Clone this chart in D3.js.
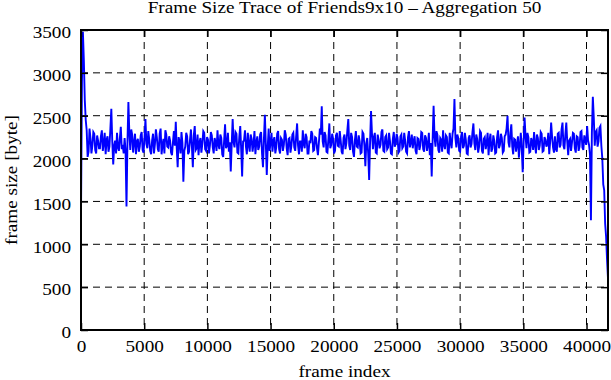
<!DOCTYPE html>
<html>
<head>
<meta charset="utf-8">
<script src="https://cdn.jsdelivr.net/npm/d3@7"></script>
<style>
  html, body { margin: 0; padding: 0; background: #fff; }
  svg { display: block; }
  text { font-family: "Liberation Serif", "Times New Roman", serif; fill: #000; }
</style>
</head>
<body>
<div id="chart"></div>
<script>
// Frame size trace (bytes), one sample every frameStep frames
const frameStep = 75;
const frameSize = [
  1350, 2900, 3480, 3150, 2680, 2450, 2330, 2020, 2080, 2350, 2240, 2060, 2150, 2310, 2290, 2100, 2060, 2270, 2210, 2120,
  2120, 2260, 2330, 2090, 2180, 2300, 2050, 2220, 2260, 2080, 2140, 2350, 2580, 2200, 1930, 2150, 2210, 2060, 2300, 2130,
  2090, 2240, 2370, 2110, 2160, 2060, 2240, 2100, 1440, 2180, 2660, 2300, 2100, 2340, 2280, 2070, 2190, 2290, 2050, 2200,
  2230, 2080, 2140, 2270, 2310, 2100, 2070, 2240, 2460, 2170, 2120, 2320, 2220, 2090, 2050, 2210, 2290, 2060, 2170, 2340,
  2250, 2110, 2080, 2290, 2350, 2050, 2160, 2230, 2060, 2330, 2280, 2140, 2130, 2260, 2210, 2070, 2040, 2190, 2320, 2150,
  2430, 2120, 1900, 2250, 2200, 2060, 2310, 2180, 1730, 2090, 2140, 2300, 2260, 2050, 2080, 2220, 2340, 2140, 1900, 2270,
  2380, 2100, 2120, 2280, 2040, 2190, 2240, 2070, 2170, 2320, 2300, 2110, 2090, 2250, 2220, 2060, 2150, 2310, 2270, 2130,
  2060, 2240, 2190, 2090, 2330, 2160, 2110, 2280, 2240, 2050, 2020, 2210, 2400, 2120, 2150, 2300, 2080, 2190, 1850, 2170,
  2460, 2190, 2130, 2310, 2290, 2070, 2060, 2250, 2380, 2110, 1790, 2200, 2210, 2330, 2140, 2050, 2300, 2160, 2080, 2280,
  2230, 2080, 2170, 2320, 2050, 2190, 2260, 2100, 2140, 2280, 2310, 2060, 1900, 2230, 2510, 2170, 1810, 2140, 2350, 2090,
  2190, 2300, 2080, 2210, 2250, 2060, 2130, 2290, 2320, 2110, 2060, 2240, 2220, 2090, 2160, 2330, 2280, 2120, 2040, 2230,
  2240, 2070, 2150, 2280, 2300, 2130, 2090, 2260, 2410, 2150, 2050, 2200, 2200, 2080, 2330, 2170, 2120, 2290, 2250, 2060,
  2060, 2210, 2180, 2320, 2290, 2090, 2100, 2250, 2240, 2120, 2040, 2190, 2350, 2280, 2610, 2200, 2130, 2310, 2270, 2080,
  2070, 2230, 2410, 2120, 2160, 2290, 2230, 2060, 2090, 2270, 2300, 2150, 2140, 2320, 2210, 2080, 2050, 2240, 2280, 2110,
  2180, 2330, 2460, 2150, 2100, 2300, 2250, 2080, 2020, 2220, 2320, 2140, 2130, 2270, 2200, 2060, 2070, 2310, 2290, 2150,
  1910, 2180, 2240, 2060, 1750, 2200, 2555, 2290, 2110, 2250, 2300, 2070, 2060, 2280, 2220, 2120, 2160, 2310, 2340, 2090,
  2080, 2250, 2270, 2110, 2130, 2300, 2200, 2060, 2050, 2230, 2310, 2140, 2170, 2290, 2240, 2070, 2090, 2260, 2280, 2120,
  2140, 2300, 2210, 2080, 2060, 2250, 2320, 2130, 2190, 2280, 2120, 2210, 2260, 2090, 2050, 2240, 2230, 2100, 2150, 2310,
  2300, 2110, 2080, 2270, 2240, 2090, 2160, 2300, 2040, 2180, 1790, 2230, 2615, 2250, 2140, 2320, 2280, 2100, 2070, 2240,
  2220, 2080, 2330, 2160, 2110, 2270, 2250, 2070, 2060, 2300, 2190, 2120, 2290, 2350, 2695, 2240, 2130, 2280, 2240, 2090,
  2080, 2260, 2310, 2120, 2150, 2300, 2220, 2060, 2050, 2240, 2270, 2130, 2170, 2310, 2410, 2180, 2100, 2280, 2230, 2070,
  2140, 2320, 2300, 2090, 2060, 2230, 2250, 2110, 2180, 2300, 2040, 2210, 2290, 2080, 2120, 2270, 2210, 2060, 2070, 2250,
  2330, 2120, 2160, 2290, 2240, 2070, 2090, 2260, 2280, 2350, 2500, 2190, 2130, 2300, 2400, 2140, 2050, 2230, 2220, 2080,
  2170, 2260, 2010, 2150, 2300, 2120, 1840, 2200, 2480, 2260, 2120, 2300, 2250, 2070, 2080, 2240, 2200, 2100, 2310, 2160,
  2060, 2280, 2240, 2100, 2150, 2310, 2290, 2080, 2090, 2250, 2220, 2140, 2170, 2300, 2050, 2200, 2420, 2260, 2130, 2070,
  2260, 2110, 2080, 2290, 2300, 2130, 2160, 2340, 2420, 2150, 2110, 2280, 2420, 2200, 2040, 2210, 2230, 2090, 2190, 2300,
  2290, 2120, 2070, 2260, 2250, 2090, 2140, 2310, 2320, 2130, 2100, 2270, 2220, 2160, 2380, 2210, 2160, 2050, 1280, 2300,
  2720, 2480, 2150, 2310, 2330, 2140, 2200, 2360, 2380, 2150, 2000, 1700, 1630, 1240, 1090, 820, 600
];

const xTicks = [0, 5000, 10000, 15000, 20000, 25000, 30000, 35000, 40000];
const yTicks = [0, 500, 1000, 1500, 2000, 2500, 3000, 3500];
const xMax = 41700;
const yMax = 3500;

const titleText = 'Frame Size Trace of Friends9x10 \u2013 Aggregation 50';
const xLabel = 'frame index';
const yLabel = 'frame size [byte]';

const width = 611;
const height = 380;
const margin = { top: 30, right: 3, bottom: 50, left: 81 };
const innerWidth = width - margin.left - margin.right;
const innerHeight = height - margin.top - margin.bottom;
const fontFamily = '"Liberation Serif", "Times New Roman", serif';
const stretch = 'scale(1.2,1)'; // the original font is drawn a bit wide

const svg = d3.select('#chart')
  .append('svg')
  .attr('width', width)
  .attr('height', height);

const x = d3.scaleLinear().domain([0, xMax]).range([0, innerWidth]);
const y = d3.scaleLinear().domain([0, yMax]).range([innerHeight, 0]);

const g = svg.append('g')
  .attr('transform', `translate(${margin.left},${margin.top})`);

// Dashed grid
g.append('g')
  .selectAll('line')
  .data(xTicks.filter(d => d > 0))
  .join('line')
  .attr('x1', d => x(d)).attr('x2', d => x(d))
  .attr('y1', 0).attr('y2', innerHeight)
  .attr('stroke', '#000')
  .attr('stroke-width', 1)
  .attr('stroke-dasharray', '7,5');

g.append('g')
  .selectAll('line')
  .data(yTicks.filter(d => d > 0 && d < yMax))
  .join('line')
  .attr('x1', 0).attr('x2', innerWidth)
  .attr('y1', d => y(d)).attr('y2', d => y(d))
  .attr('stroke', '#000')
  .attr('stroke-width', 1)
  .attr('stroke-dasharray', '7,5');

// Trace
g.append('defs')
  .append('clipPath')
  .attr('id', 'plot-clip')
  .append('rect')
  .attr('width', innerWidth)
  .attr('height', innerHeight);

const line = d3.line()
  .x((d, i) => x(i * frameStep))
  .y(d => y(d));

g.append('path')
  .datum(frameSize)
  .attr('clip-path', 'url(#plot-clip)')
  .attr('fill', 'none')
  .attr('stroke', '#0000ff')
  .attr('stroke-width', 1.9)
  .attr('d', line);

// Axes: ticks point inward on all four sides
const xAxis = g.append('g')
  .attr('transform', `translate(0,${innerHeight})`)
  .call(d3.axisBottom(x).tickValues(xTicks).tickSize(-7).tickPadding(0).tickFormat(d3.format('d')));

const yAxis = g.append('g')
  .call(d3.axisLeft(y).tickValues(yTicks).tickSize(-7).tickPadding(0).tickFormat(d3.format('d')));

g.append('g')
  .call(d3.axisTop(x).tickValues(xTicks).tickSize(-7).tickFormat(''));

g.append('g')
  .attr('transform', `translate(${innerWidth},0)`)
  .call(d3.axisRight(y).tickValues(yTicks).tickSize(-7).tickFormat(''));

// drop d3's default sans-serif axis font
g.selectAll('g').attr('font-family', null).attr('font-size', null);

xAxis.selectAll('text')
  .attr('y', 21.7)
  .attr('dy', null)
  .attr('transform', stretch)
  .style('font-family', fontFamily)
  .style('font-size', '16px');

yAxis.selectAll('text')
  .attr('x', -10 / 1.2)
  .attr('dy', null)
  .attr('y', 7.8)
  .attr('transform', stretch)
  .style('font-family', fontFamily)
  .style('font-size', '16px');

g.selectAll('.domain').remove();
g.selectAll('.tick line').attr('stroke', '#000').attr('stroke-width', 1.5);

// Frame
g.append('rect')
  .attr('width', innerWidth)
  .attr('height', innerHeight)
  .attr('fill', 'none')
  .attr('stroke', '#000')
  .attr('stroke-width', 2);

// Labels
svg.append('text')
  .attr('transform', `translate(${margin.left + innerWidth / 2},13) ${stretch}`)
  .attr('text-anchor', 'middle')
  .style('font-size', '16px')
  .text(titleText);

svg.append('text')
  .attr('transform', `translate(${margin.left + innerWidth / 2},377) ${stretch}`)
  .attr('text-anchor', 'middle')
  .style('font-size', '16px')
  .text(xLabel);

svg.append('text')
  .attr('transform', `translate(17,${margin.top + innerHeight / 2}) rotate(-90) ${stretch}`)
  .attr('text-anchor', 'middle')
  .style('font-size', '16px')
  .text(yLabel);
</script>
</body>
</html>
